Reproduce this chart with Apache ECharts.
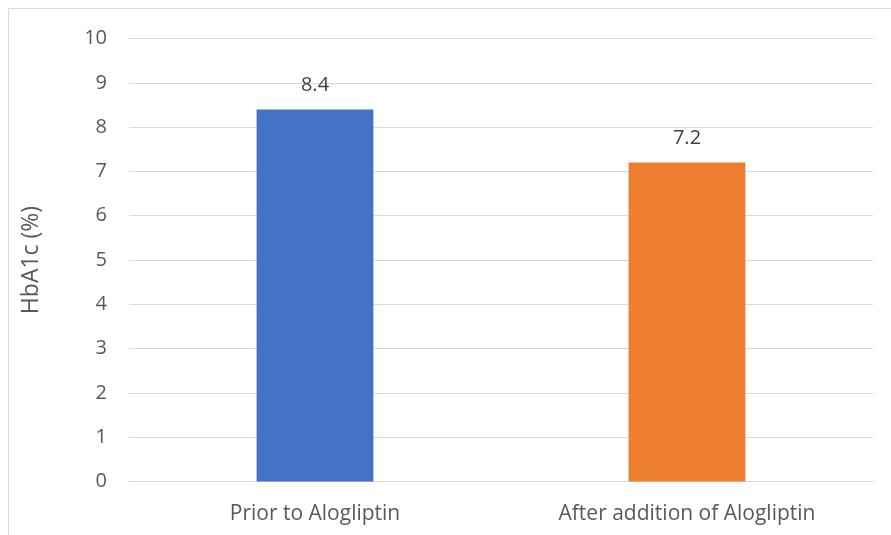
<!DOCTYPE html>
<html>
<head>
<meta charset="utf-8">
<script src="https://cdn.jsdelivr.net/npm/echarts@6/dist/echarts.min.js"></script>
<style>
  html, body { margin: 0; padding: 0; background: #fff; }
  #chart { width: 891px; height: 535px; }
</style>
</head>
<body>
<div id="chart"></div>
<script>
// HbA1c before and after adding alogliptin
const categories = ['Prior to Alogliptin', 'After addition of Alogliptin'];
const hba1cValues = [8.4, 7.2];
const barColors = ['#4472C4', '#ED7D31'];
const yTicks = { min: 0, max: 10, interval: 1 };
const yAxisTitle = 'HbA1c (%)';

const fontFamily = '"Open Sans", "Noto Sans", sans-serif';
const chart = echarts.init(document.getElementById('chart'), null, { renderer: 'canvas' });

chart.setOption({
  animation: false,
  backgroundColor: '#ffffff',
  graphic: [{
    type: 'rect',
    shape: { x: 8.5, y: 8.5, width: 900, height: 600 },
    style: { fill: 'none', stroke: '#d9d9d9', lineWidth: 1 },
    silent: true
  }],
  grid: { left: 129, right: 18, top: 38.5, bottom: 53.5, containLabel: false },
  xAxis: {
    type: 'category',
    data: categories,
    axisLine: { show: true, lineStyle: { color: '#d9d9d9', width: 1 } },
    axisTick: { show: false },
    axisLabel: { color: '#595959', fontSize: 21, fontFamily, margin: 22 }
  },
  yAxis: {
    type: 'value',
    min: yTicks.min,
    max: yTicks.max,
    interval: yTicks.interval,
    name: yAxisTitle,
    nameLocation: 'middle',
    nameGap: 86,
    nameTextStyle: { color: '#595959', fontSize: 23, fontFamily },
    axisLine: { show: false },
    axisTick: { show: false },
    axisLabel: { color: '#595959', fontSize: 20, fontFamily, margin: 22 },
    splitLine: { lineStyle: { color: '#d9d9d9', width: 1 } }
  },
  series: [{
    type: 'bar',
    barWidth: '31.4%',
    data: hba1cValues.map((v, i) => ({ value: v, itemStyle: { color: barColors[i] } })),
    label: {
      show: true,
      position: 'top',
      distance: 14,
      color: '#404040',
      fontSize: 20,
      fontFamily
    }
  }]
});
</script>
</body>
</html>
